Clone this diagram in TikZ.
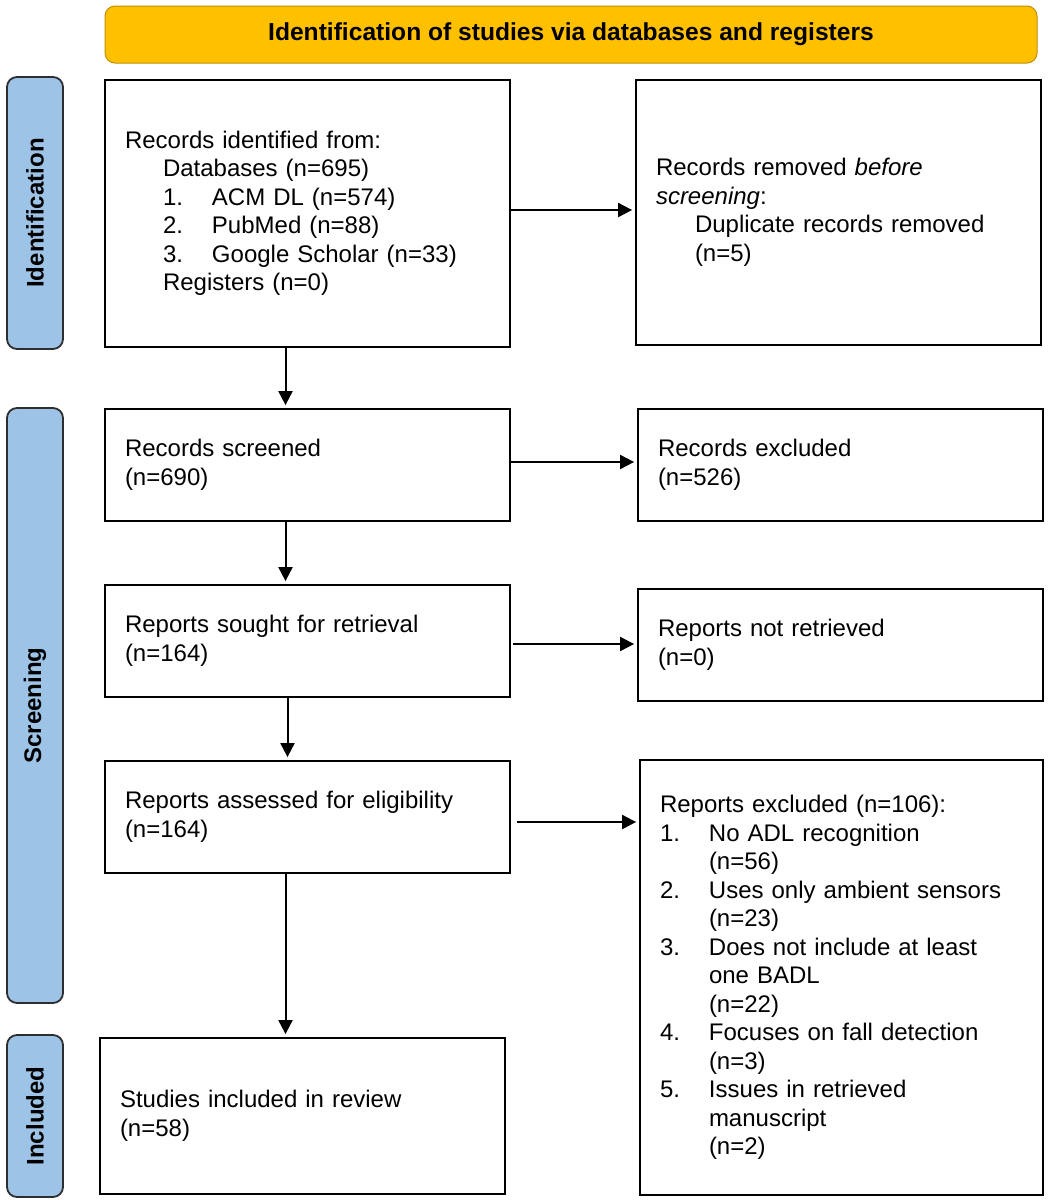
\documentclass[tikz,border=0pt]{standalone}
\usepackage{fontspec}
\setmainfont{Liberation Sans}
\usetikzlibrary{arrows.meta}
\definecolor{hdrfill}{HTML}{FFC000}
\definecolor{hdrdraw}{HTML}{C09000}
\definecolor{sidefill}{HTML}{9DC3E6}
\definecolor{sidedraw}{HTML}{2E2E2E}
\begin{document}
\begin{tikzpicture}[x=1pt,y=-1pt,
  box/.style={draw=black, line width=1.8pt, fill=white, inner xsep=20pt, inner ysep=4pt,
    align=left, font=\fontsize{24}{28.5}\selectfont},
  hdr/.style={draw=hdrdraw, line width=1pt, fill=hdrfill, rounded corners=10pt,
    minimum width=932pt, minimum height=57pt, font=\fontsize{24.6}{28}\selectfont\bfseries},
  side/.style={draw=sidedraw, line width=1.8pt, fill=sidefill, rounded corners=10pt,
    rotate=90, minimum height=56pt, inner sep=0pt, font=\fontsize{24}{28}\selectfont\bfseries},
  flow/.style={line width=2pt, -{Triangle[length=14pt,width=14pt]}, shorten >=3pt}
]
\useasboundingbox (0,0) rectangle (1049,1200);

\node[hdr] (hdr) at (571,34.5) {Identification of studies via databases and registers};

\node[side, minimum width=272pt] (sid) at (35,213) {Identification};
\node[side, minimum width=595pt] (sscr) at (35,705.5) {Screening};
\node[side, minimum width=162pt] (sinc) at (35,1116) {Included};

\node[box, text width=365pt, minimum height=267pt] (b1) at (307.5,213.5) {Records identified from:\\
\hspace*{38pt}Databases (n=695)\\
\hspace*{38pt}\makebox[49pt][l]{1.}ACM DL (n=574)\\
\hspace*{38pt}\makebox[49pt][l]{2.}PubMed (n=88)\\
\hspace*{38pt}\makebox[49pt][l]{3.}Google Scholar (n=33)\\
\hspace*{38pt}Registers (n=0)};

\node[box, text width=365pt, minimum height=265pt] (b2) at (838.5,212.5) {Records removed \textit{before}\\
\textit{screening}:\\
\hspace*{39pt}Duplicate records removed\\
\hspace*{39pt}(n=5)};

\node[box, text width=365pt, minimum height=112pt] (b3) at (307.5,465) {Records screened\\(n=690)};
\node[box, text width=365pt, minimum height=112pt] (b4) at (840.5,465) {Records excluded\\(n=526)};
\node[box, text width=365pt, minimum height=112pt] (b5) at (307.5,641) {Reports sought for retrieval\\(n=164)};
\node[box, text width=365pt, minimum height=112pt] (b6) at (840.5,645) {Reports not retrieved\\(n=0)};
\node[box, text width=365pt, minimum height=112pt] (b7) at (307.5,817) {Reports assessed for eligibility\\(n=164)};

\node[box, text width=363pt, minimum height=435pt] (b8) at (841.5,977.5) {Reports excluded (n=106):\\
\makebox[49pt][l]{1.}No ADL recognition\\
\hspace*{49pt}(n=56)\\
\makebox[49pt][l]{2.}Uses only ambient sensors\\
\hspace*{49pt}(n=23)\\
\makebox[49pt][l]{3.}Does not include at least\\
\hspace*{49pt}one BADL\\
\hspace*{49pt}(n=22)\\
\makebox[49pt][l]{4.}Focuses on fall detection\\
\hspace*{49pt}(n=3)\\
\makebox[49pt][l]{5.}Issues in retrieved\\
\hspace*{49pt}manuscript\\
\hspace*{49pt}(n=2)};

\node[box, text width=365pt, minimum height=156pt] (b9) at (302.5,1116) {Studies included in review\\(n=58)};

% horizontal arrows
\draw[flow] ([yshift=3.5pt]b1.east) -- ([yshift=3.5pt]b1.east -| b2.west);
\draw[flow] ([yshift=3pt]b3.east) -- ([yshift=3pt]b3.east -| b4.west);
\draw[flow, shorten <=2pt] ([yshift=-3pt]b5.east) -- ([yshift=-3pt]b5.east -| b6.west);
\draw[flow, shorten <=6pt] ([yshift=-5pt]b7.east) -- ([yshift=-5pt]b7.east -| b8.west);
% vertical arrows
\draw[flow] ([xshift=-22pt]b1.south) -- ([xshift=-22pt]b1.south |- b3.north);
\draw[flow] ([xshift=-22pt]b3.south) -- ([xshift=-22pt]b3.south |- b5.north);
\draw[flow] ([xshift=-20pt]b5.south) -- ([xshift=-20pt]b5.south |- b7.north);
\draw[flow] ([xshift=-22pt]b7.south) -- ([xshift=-22pt]b7.south |- b9.north);
\end{tikzpicture}
\end{document}
